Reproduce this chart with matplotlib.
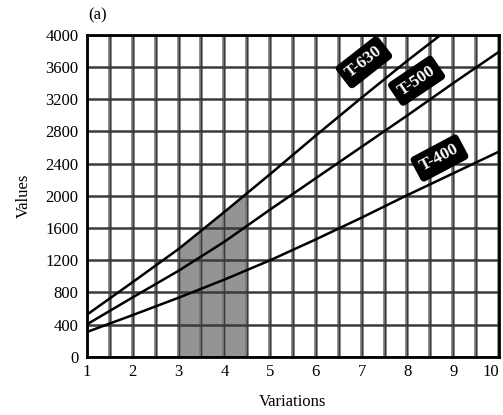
import numpy as np
import matplotlib
matplotlib.use("Agg")
import matplotlib.pyplot as plt

# values
variations = [1, 2, 3, 4, 5, 6, 7, 8, 9, 10]
t630 = [525, 930, 1340, 1800, 2270, 2750, 3220, 3680, 4120, 4560]
t500 = [405, 740, 1070, 1430, 1830, 2220, 2610, 3000, 3400, 3790]
t400 = [310, 520, 735, 960, 1200, 1460, 1730, 2010, 2280, 2550]
series = [("T-630", t630), ("T-500", t500), ("T-400", t400)]

# label anchor (x, y, rotation) per series
label_pos = {"T-630": (7.05, 3660, 38), "T-500": (8.2, 3430, 34), "T-400": (8.7, 2470, 28)}

shade_from, shade_to = 3, 4.5
y_ticks = list(range(0, 4001, 400))
x_ticks = list(range(1, 11))

plt.rcParams["font.family"] = ["Liberation Serif", "DejaVu Serif"]

fig = plt.figure(figsize=(5.03, 4.15), dpi=100)
ax = fig.add_axes([0.173, 0.140, 0.819, 0.776])

# grid: every half unit vertically, every 400 horizontally
for xv in np.arange(1, 10.01, 0.5):
    ax.axvline(xv, color="#767676", lw=2.6, zorder=1)
    ax.axvline(xv, color="#3a3a3a", lw=0.8, zorder=1)
for yv in y_ticks:
    ax.axhline(yv, color="#3a3a3a", lw=1.8, zorder=1)

# shaded block under T-630
xs = np.linspace(shade_from, shade_to, 50)
ax.fill_between(xs, 0, np.interp(xs, variations, t630), color="#888888", alpha=0.9, zorder=0.5, lw=0)

for name, vals in series:
    ax.plot(variations, vals, color="black", lw=1.8, zorder=3)
    lx, ly, rot = label_pos[name]
    ax.text(lx, ly, name, color="white", fontsize=12.5, fontweight="bold", rotation=rot,
            ha="center", va="center", rotation_mode="anchor", zorder=4,
            bbox=dict(boxstyle="round,pad=0.3,rounding_size=0.2", fc="black", ec="black"))

ax.set_xlim(1, 10)
ax.set_ylim(0, 4000)
ax.set_xticks(x_ticks)
ax.set_yticks(y_ticks)
ax.tick_params(length=0, labelsize=12, pad=6)
ax.tick_params(axis="x", pad=5)
ax.get_xticklabels()[-1].set_horizontalalignment("right")
for sp in ax.spines.values():
    sp.set_linewidth(2)
    sp.set_color("black")
    sp.set_zorder(5)

ax.set_xlabel("Variations", fontsize=12, labelpad=10)
ax.set_ylabel("Values", fontsize=12, labelpad=10)
fig.text(0.175, 0.962, "(a)", fontsize=12, ha="left", va="center")

fig.savefig("out.png", dpi=100)
